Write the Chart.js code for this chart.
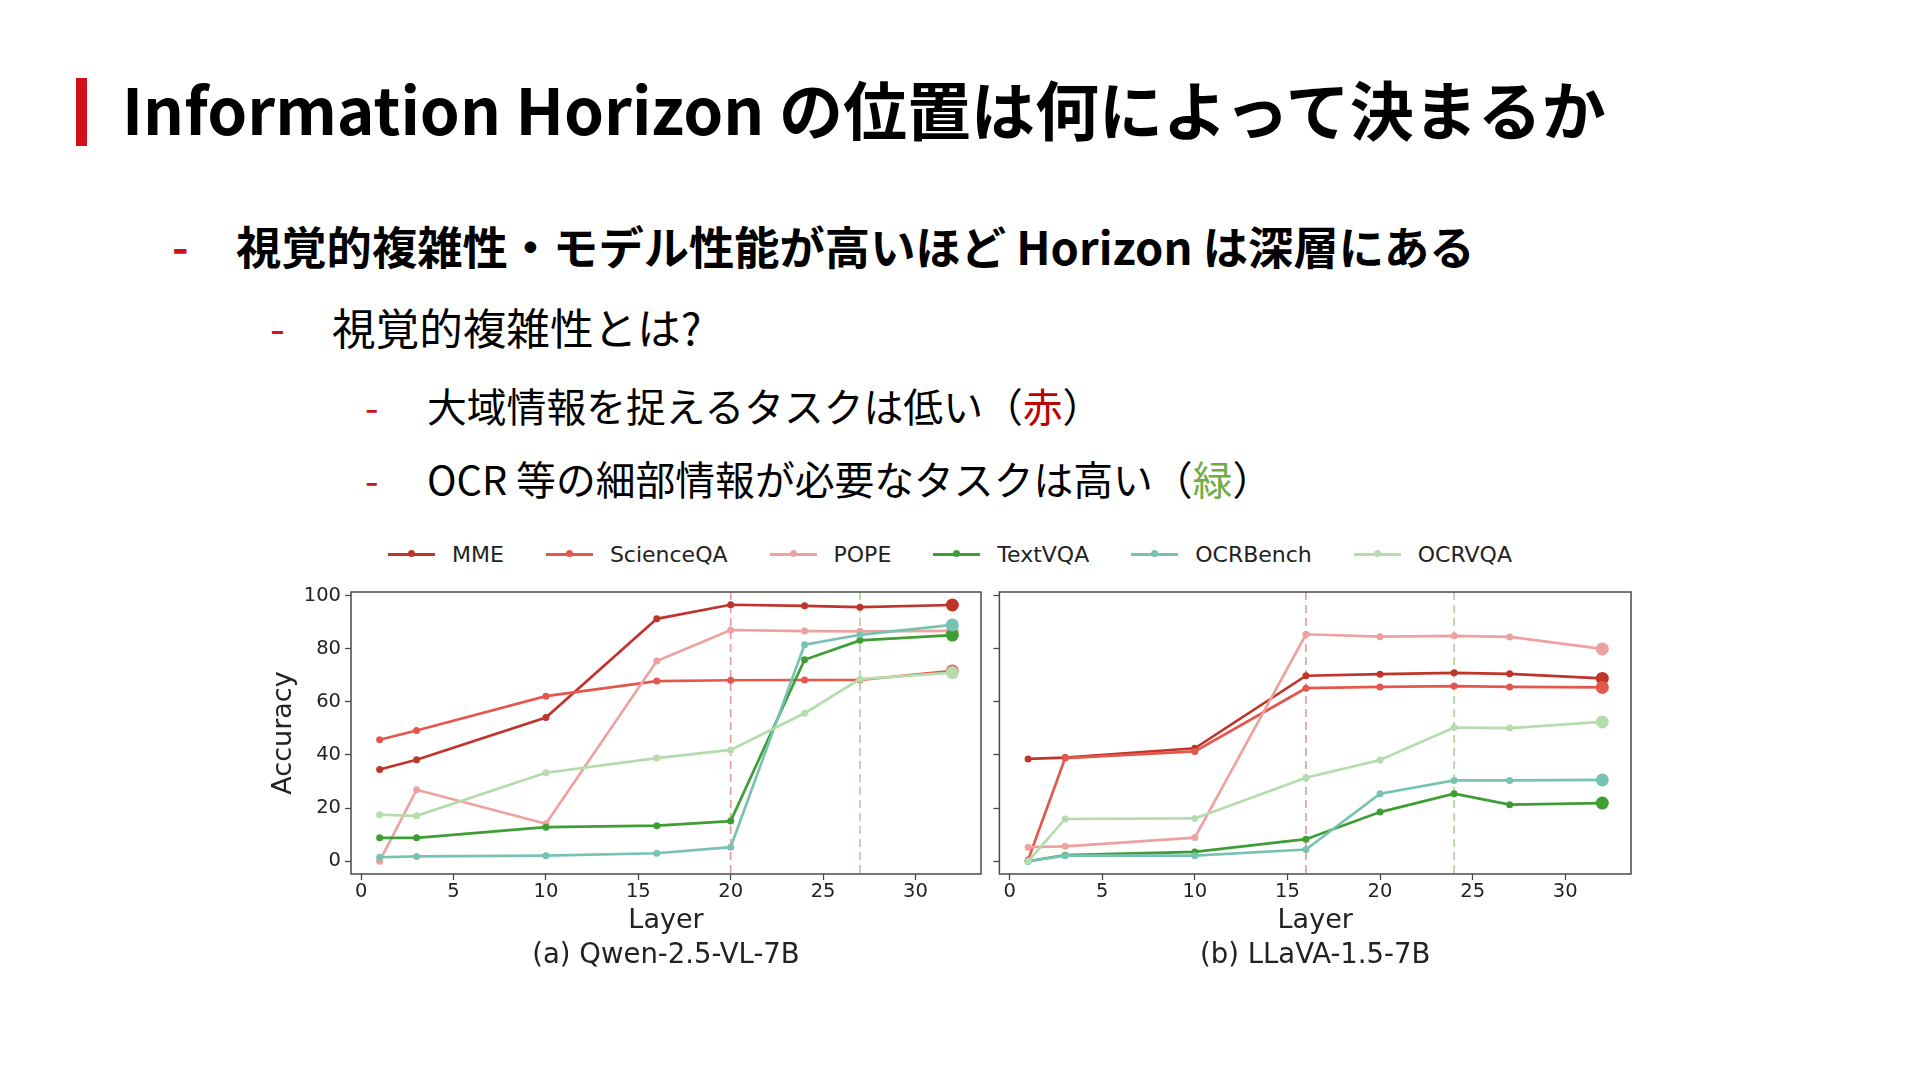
<!DOCTYPE html>
<html lang="ja">
<head>
<meta charset="utf-8">
<title>Information Horizon</title>
<script src="https://cdn.jsdelivr.net/npm/chart.js@4.4.1/dist/chart.umd.min.js"></script>
<style>
    html, body { margin: 0; padding: 0; background: #fff; }
    body { width: 1920px; height: 1082px; position: relative; overflow: hidden; font-family: "Noto Sans CJK JP", "Noto Sans", sans-serif; color: #000; }
    .bar { position: absolute; left: 76px; top: 78px; width: 11px; height: 68px; background: #d0111b; }
    .txt { position: absolute; white-space: nowrap; }
    .dash { position: absolute; color: #d0111b; white-space: nowrap; }
    canvas { position: absolute; }
    #legend { position: absolute; left: 388px; top: 540px; height: 28px; display: flex; align-items: center; font-family: "DejaVu Sans", sans-serif; font-size: 22px; color: #222; }
    .item { display: flex; align-items: center; margin-right: 42px; }
    .swatch { position: relative; width: 47px; height: 3px; margin-right: 17px; }
    .swatch i { position: absolute; left: 20px; top: -2.5px; width: 7px; height: 7px; border-radius: 50%; }
</style>
</head>
<body>
<div class="bar"></div>
<div class="txt" style="left:122px; top:64px; font-size:64px; font-weight:700; line-height:86px;">Information Horizon の位置は何によって決まるか</div>

<div class="dash" style="left:172px; top:214px; font-size:45px; font-weight:700; line-height:62px;">-</div>
<div class="txt" style="left:236px; top:214px; font-size:45.3px; font-weight:700; line-height:62px;">視覚的複雑性・モデル性能が高いほど Horizon は深層にある</div>

<div class="dash" style="left:270px; top:296px; font-size:43px; line-height:60px;">-</div>
<div class="txt" style="left:332px; top:296px; font-size:43.6px; line-height:60px;">視覚的複雑性とは?</div>

<div class="dash" style="left:365px; top:377px; font-size:39px; line-height:56px;">-</div>
<div class="txt" style="left:427px; top:377px; font-size:39.8px; line-height:56px;">大域情報を捉えるタスクは低い（<span style="color:#c00000">赤</span>）</div>

<div class="dash" style="left:365px; top:450px; font-size:39px; line-height:56px;">-</div>
<div class="txt" style="left:427px; top:450px; font-size:39.8px; line-height:56px;">OCR 等の細部情報が必要なタスクは高い（<span style="color:#70ad47">緑</span>）</div>

<div id="legend"></div>
<canvas id="qwenChart" width="730" height="420" style="left:260px; top:580px;"></canvas>
<canvas id="llavaChart" width="650" height="420" style="left:990px; top:580px;"></canvas>

<script>
// layers probed
const layers = [1, 3, 10, 16, 20, 24, 27, 32];
const seriesNames = ['MME', 'ScienceQA', 'POPE', 'TextVQA', 'OCRBench', 'OCRVQA'];
const seriesColors = ['#bf352c', '#e4574c', '#eea2a0', '#3f9d35', '#78c2b2', '#b5dcad'];

// (a) Qwen-2.5-VL-7B
const qwenMME = [34.5, 38.2, 54.1, 91.2, 96.5, 96.1, 95.6, 96.4];
const qwenScienceQA = [45.7, 49.2, 62.1, 67.8, 68.1, 68.2, 68.2, 71.6];
const qwenPOPE = [0.0, 26.9, 14.1, 75.3, 87.0, 86.6, 86.5, 86.7];
const qwenTextVQA = [8.8, 8.8, 12.8, 13.4, 15.1, 75.8, 83.1, 85.1];
const qwenOCRBench = [1.5, 1.8, 2.1, 3.0, 5.3, 81.5, 85.2, 88.9];
const qwenOCRVQA = [17.5, 17.1, 33.3, 38.8, 41.9, 55.7, 68.5, 71.0];

// (b) LLaVA-1.5-7B
const llavaMME = [38.5, 39.0, 42.5, 69.8, 70.4, 70.9, 70.5, 68.8];
const llavaScienceQA = [0.5, 38.8, 41.3, 65.1, 65.6, 65.9, 65.6, 65.4];
const llavaPOPE = [5.3, 5.6, 8.9, 85.4, 84.5, 84.8, 84.4, 79.9];
const llavaTextVQA = [0.0, 2.3, 3.5, 8.3, 18.5, 25.4, 21.3, 21.9];
const llavaOCRBench = [0.0, 2.1, 2.1, 4.4, 25.4, 30.4, 30.4, 30.6];
const llavaOCRVQA = [0.0, 15.9, 16.1, 31.4, 38.1, 50.3, 50.1, 52.4];

// horizon layers (red = global tasks, green = OCR tasks)
const qwenHorizons = [20, 27];
const llavaHorizons = [16, 24];
const horizonColors = ['#e39a9a', '#a9d09f'];

const captions = ['(a) Qwen-2.5-VL-7B', '(b) LLaVA-1.5-7B'];
const xTicks = [0, 5, 10, 15, 20, 25, 30];
const yTicks = [0, 20, 40, 60, 80, 100];

const axisFont = 'DejaVu Sans';
const textColor = '#222';

// Legend shared by both panels
const legend = document.getElementById('legend');
seriesNames.forEach((name, i) => {
    const item = document.createElement('div');
    item.className = 'item';
    item.innerHTML = `<span class="swatch" style="background:${seriesColors[i]}"><i style="background:${seriesColors[i]}"></i></span>${name}`;
    legend.appendChild(item);
});

// Frame around the plot area and dashed horizon markers
const framePlugin = {
    id: 'frame',
    beforeDatasetsDraw(chart, args, opts) {
        const { ctx, chartArea: a } = chart;
        const x = chart.scales.x;
        ctx.save();
        ctx.lineWidth = 1.6;
        ctx.setLineDash([8, 5]);
        opts.horizons.forEach((layer, i) => {
            const px = x.getPixelForValue(layer);
            ctx.strokeStyle = horizonColors[i];
            ctx.beginPath();
            ctx.moveTo(px, a.top);
            ctx.lineTo(px, a.bottom);
            ctx.stroke();
        });
        ctx.restore();
    },
    afterDraw(chart) {
        const { ctx, chartArea: a } = chart;
        ctx.save();
        ctx.strokeStyle = '#4a4a4a';
        ctx.lineWidth = 1.5;
        ctx.strokeRect(a.left, a.top, a.right - a.left, a.bottom - a.top);
        ctx.restore();
    }
};

function buildDatasets(seriesValues) {
    return seriesValues.map((values, i) => ({
        label: seriesNames[i],
        data: layers.map((layer, j) => ({ x: layer, y: values[j] })),
        borderColor: seriesColors[i],
        backgroundColor: seriesColors[i],
        borderWidth: 2.7,
        pointRadius: ctx => (ctx.dataIndex === layers.length - 1 ? 6.5 : 3.5),
        pointBorderWidth: 0,
        tension: 0,
        order: seriesNames.length - i
    }));
}

function makeChart(canvasId, seriesValues, horizons, caption, showYLabels, yAxisWidth) {
    const ctx = document.getElementById(canvasId).getContext('2d');
    return new Chart(ctx, {
        type: 'line',
        data: { datasets: buildDatasets(seriesValues) },
        plugins: [framePlugin],
        options: {
            responsive: false,
            animation: false,
            layout: { padding: { top: 12, right: 9, bottom: 28, left: 0 } },
            scales: {
                x: {
                    type: 'linear',
                    min: -0.55,
                    max: 33.55,
                    afterBuildTicks: axis => { axis.ticks = xTicks.map(v => ({ value: v })); },
                    afterFit: scale => {
                        scale.height = 63;
                        scale.paddingLeft = 0;
                        scale.paddingRight = 0;
                    },
                    border: { display: false },
                    grid: { drawOnChartArea: false, drawTicks: true, tickLength: 6, tickColor: '#4a4a4a', tickWidth: 1.3 },
                    ticks: { padding: 0, maxRotation: 0, autoSkip: false, color: textColor, font: { family: axisFont, size: 19.5 } },
                    title: { display: true, text: 'Layer', color: textColor, padding: 0, font: { family: axisFont, size: 27 } }
                },
                y: {
                    type: 'linear',
                    min: -4.8,
                    max: 101.3,
                    afterBuildTicks: axis => { axis.ticks = yTicks.map(v => ({ value: v })); },
                    afterFit: scale => {
                        scale.width = yAxisWidth;
                        scale.paddingTop = 0;
                        scale.paddingBottom = 0;
                    },
                    border: { display: false },
                    grid: { drawOnChartArea: false, drawTicks: true, tickLength: 6, tickColor: '#4a4a4a', tickWidth: 1.3 },
                    ticks: { display: showYLabels, padding: 4, color: textColor, font: { family: axisFont, size: 19.5 } },
                    title: { display: showYLabels, text: 'Accuracy', color: textColor, padding: { top: 8, bottom: 0 }, font: { family: axisFont, size: 27 } }
                }
            },
            plugins: {
                legend: { display: false },
                tooltip: { enabled: false },
                frame: { horizons: horizons },
                title: {
                    display: true,
                    position: 'bottom',
                    fullSize: false,
                    text: caption,
                    color: textColor,
                    padding: { top: 2, bottom: 0 },
                    font: { family: axisFont, size: 27.5, weight: 'normal' }
                }
            }
        }
    });
}

makeChart('qwenChart',
    [qwenMME, qwenScienceQA, qwenPOPE, qwenTextVQA, qwenOCRBench, qwenOCRVQA],
    qwenHorizons, captions[0], true, 91);
makeChart('llavaChart',
    [llavaMME, llavaScienceQA, llavaPOPE, llavaTextVQA, llavaOCRBench, llavaOCRVQA],
    llavaHorizons, captions[1], false, 9.4);
</script>
</body>
</html>
